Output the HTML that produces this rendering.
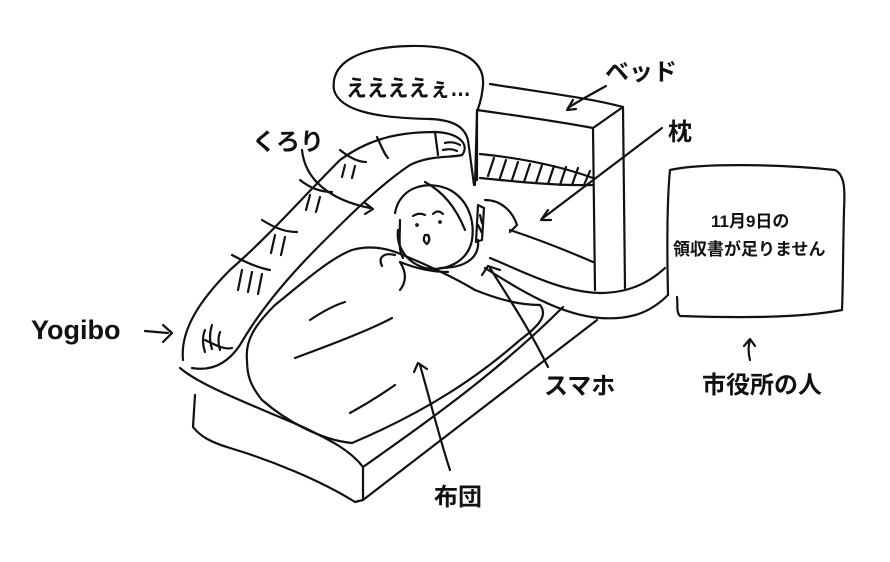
<!DOCTYPE html>
<html><head><meta charset="utf-8"><style>
html,body{margin:0;padding:0;background:#fff;}
svg{display:block;}
text{font-family:"Liberation Sans","Noto Sans CJK JP",sans-serif;font-weight:bold;fill:#111;}
</style></head><body>
<svg width="890" height="562" viewBox="0 0 890 562" xmlns="http://www.w3.org/2000/svg">
<g fill="none" stroke="#111" stroke-width="2.2" stroke-linecap="round" stroke-linejoin="round">
<!-- speech bubble -->
<path d="M430,119 C380,118 340,112 334,90 C330,62 360,47 410,46 C460,45 485,60 483,85 C482,100 478,108 477,112"/>
<path d="M430,119 C455,120 465,128 468,140 L474,185"/>
<path d="M477,112 L475,185"/>
<!-- bed headboard -->
<path d="M490,84 C540,92 590,98 623,107"/>
<path d="M477,110 C520,116 560,122 593,128 L623,107"/>
<path d="M593,128 L595,290"/>
<path d="M623,107 L625,288"/>
<path d="M477,110 L477,180"/>
<!-- pillow -->
<path d="M480,154 C520,158 560,166 593,178"/>
<path d="M480,178 C520,182 560,186 593,185"/>
<path d="M488,176 l6,-18 M500,178 l6,-18 M512,180 l6,-18 M524,182 l6,-18 M536,183 l6,-18 M548,184 l6,-18 M560,185 l6,-18 M572,185 l6,-17 M584,185 l6,-14"/>
<path d="M510,230 C540,240 570,252 593,262"/>
<!-- yogibo -->
<path d="M183,360 C180,330 200,300 230,270 C270,235 300,200 340,160 C370,138 400,132 435,132 C460,133 470,145 462,155"/>
<path d="M192,368 C215,372 230,360 240,345 C260,310 290,275 320,245 C350,215 380,185 410,165 C430,155 450,158 462,155"/>
<path d="M205,340 C215,345 225,350 232,348"/>
<path d="M232,255 C245,262 258,268 270,270"/>
<path d="M262,220 C275,228 285,232 297,232"/>
<path d="M300,180 C310,188 320,192 332,192"/>
<path d="M340,150 C350,158 358,162 366,162"/>
<path d="M377,137 C382,148 385,155 388,158"/>
<path d="M435,132 L438,155"/>
<path d="M205,330 q-4,10 0,22 M212,325 q-4,12 0,24 M220,332 q-3,8 0,18"/>
<path d="M242,270 l-4,20 M252,272 l-4,20 M262,274 l-4,20"/>
<path d="M275,235 l-4,18 M285,237 l-4,18"/>
<path d="M310,195 l-4,15 M320,197 l-4,15"/>
<path d="M345,165 l-3,12 M355,166 l-3,12"/>
<path d="M445,143 q8,-2 15,2 M443,150 q8,-2 14,1"/>
<!-- mattress -->
<path d="M180,368 C200,385 240,400 303,427 C330,440 350,450 363,467 C430,420 500,370 563,307"/>
<path d="M195,395 L193,427 C200,436 210,442 230,448 C270,460 320,480 355,502 L363,500 C440,440 520,380 597,320"/>
<path d="M363,467 L363,500"/>
<!-- futon -->
<path d="M247,360 C245,340 255,325 275,305 C300,285 330,258 352,250 C370,245 385,248 398,253 C420,262 450,275 475,290 C500,300 520,305 540,305 C548,315 540,325 520,340 C480,375 430,410 352,443 C320,440 285,420 262,400 C250,385 247,375 247,360 Z"/>
<path d="M310,320 C325,310 335,305 345,302"/>
<path d="M295,358 C330,345 370,330 392,318"/>
<path d="M350,413 C370,402 385,392 395,385"/>
<!-- person -->
<path d="M382,266 C378,258 383,252 395,255 M400,262 C405,270 408,280 400,290"/>
<path d="M400,262 C415,268 430,272 448,272"/>
<path d="M440,268 C462,268 480,260 478,240"/>
<path d="M395,213 C400,185 430,180 450,190 C468,200 475,220 472,240 C468,262 445,272 425,268 C405,262 396,245 398,230"/>
<path d="M400,220 C400,235 398,250 403,258"/>
<path d="M425,182 C440,190 455,205 465,230"/>
<path d="M413,216 q6,-4 12,-1"/>
<path d="M433,214 q5,-5 10,0"/>
<circle cx="417" cy="225" r="0.8"/><circle cx="440" cy="222" r="0.8"/>
<path d="M425,235 q-3,6 2,9 q4,-4 1,-9 z"/>
<!-- phone -->
<path d="M478,205 L484,208 L482,240 L476,242 Z"/>
<path d="M480,215 l2,8 M478,225 l4,8"/>
<path d="M485,200 C500,200 512,210 517,225 L510,232"/>
<!-- cord / arm -->
<path d="M490,258 C520,270 560,292 600,293 C630,293 650,282 665,268"/>
<path d="M485,268 C520,290 560,315 600,318 C630,320 650,313 668,295"/>
<!-- right box -->
<path d="M668,295 C667,250 667,200 670,170 C700,163 780,164 835,170 C845,175 845,190 844,210 C843,250 843,290 842,310 C800,318 740,318 680,316 C676,312 678,305 677,297"/>
<!-- arrows -->
<path d="M606,86 C590,95 580,100 568,108"/><path d="M573,100 L567,110 L576,109"/>
<path d="M662,128 C620,160 580,190 543,218"/><path d="M548,210 L541,220 L551,220"/>
<path d="M302,150 C305,180 330,200 370,208"/><path d="M365,203 L373,209 L365,214"/>
<path d="M145,331 L168,333"/><path d="M163,325 L172,333 L163,342"/>
<path d="M548,367 C530,330 510,300 490,268"/><path d="M482,275 L488,266 L500,270"/>
<path d="M750,360 C748,352 748,346 750,340"/><path d="M744,346 L750,339 L755,346"/>
<path d="M450,470 C440,440 430,400 420,365"/><path d="M414,372 L418,363 L427,369"/>
</g>
<text x="346" y="96" font-size="23" textLength="125" lengthAdjust="spacingAndGlyphs">ええええぇ…</text>
<text x="605" y="80" font-size="24">ベッド</text>
<text x="668" y="140" font-size="24">枕</text>
<text x="252" y="150" font-size="24">くろり</text>
<text x="31" y="339" font-size="27">Yogibo</text>
<text x="544" y="394" font-size="24">スマホ</text>
<text x="702" y="393" font-size="24">市役所の人</text>
<text x="434" y="505" font-size="24">布団</text>
<text x="711" y="227" font-size="17">11月9日の</text>
<text x="673" y="255" font-size="17">領収書が足りません</text>
</svg>
</body></html>
